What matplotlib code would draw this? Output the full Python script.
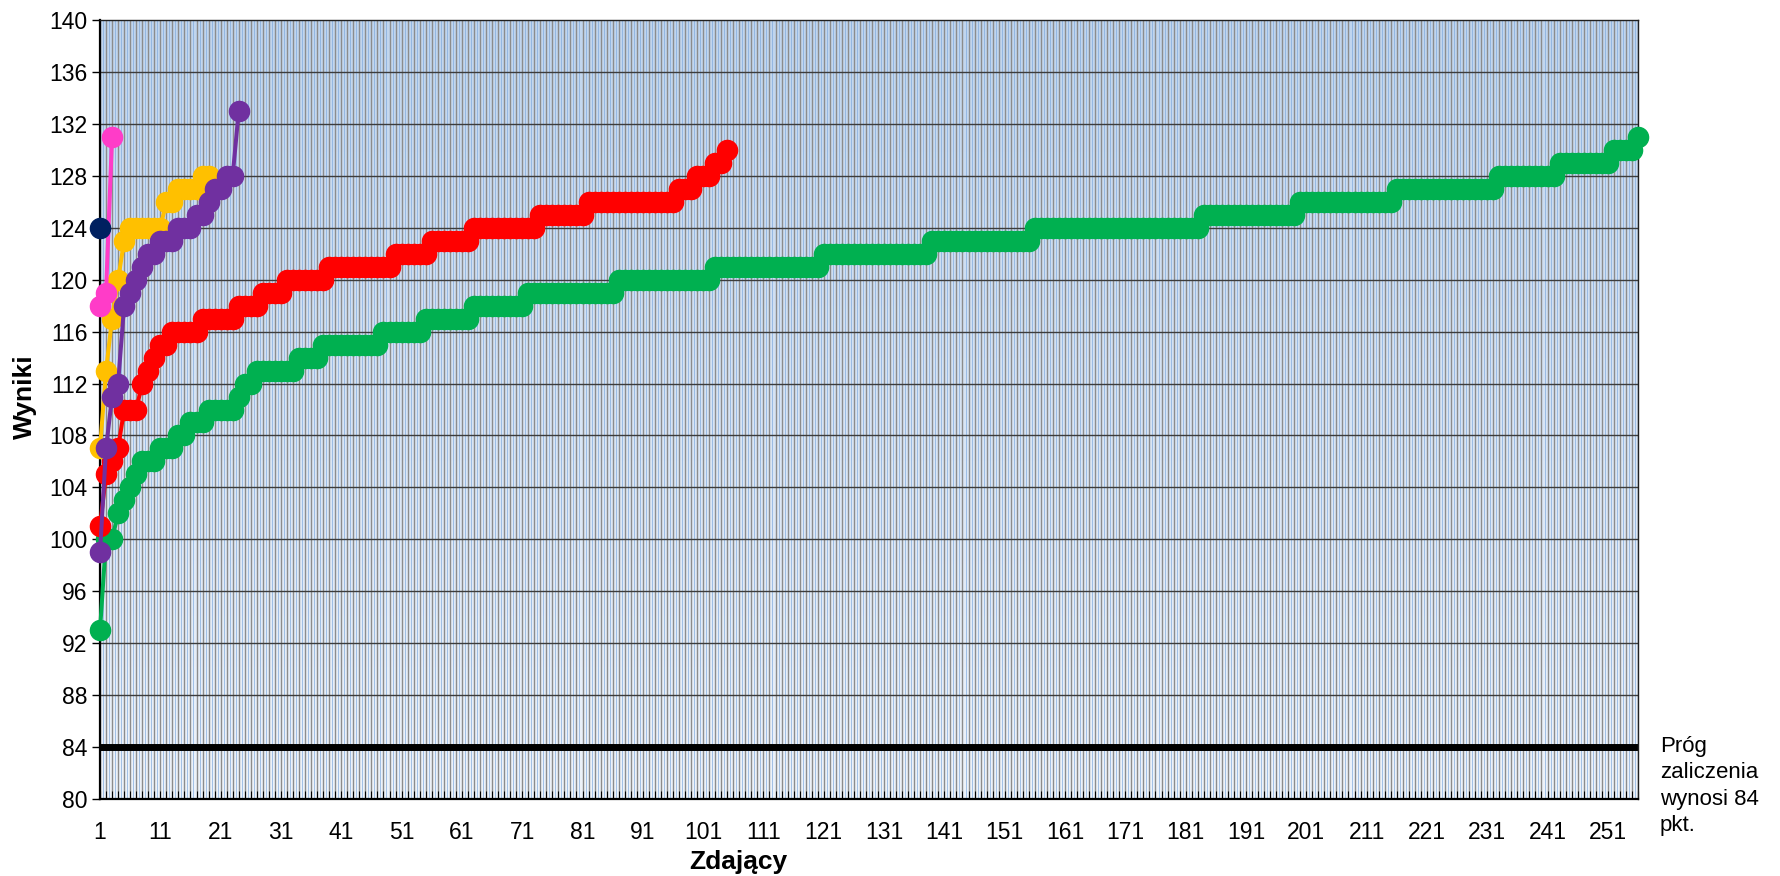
import numpy as np
import matplotlib
matplotlib.use("Agg")
import matplotlib.pyplot as plt
from matplotlib.colors import LinearSegmentedColormap

plt.rcParams['font.family'] = ['Liberation Sans', 'DejaVu Sans']

# ---------------- data ----------------
n_candidates = 256

# green series as run lengths: score level and number of candidates with it
green_levels = [93, 100, 102, 103, 104, 105, 106, 107, 108, 109, 110, 111, 112, 113,
                114, 115, 116, 117, 118, 119, 120, 121, 122, 123, 124, 125, 126, 127,
                128, 129, 130, 131]
green_counts = [1, 2, 1, 1, 1, 1, 3, 3, 2, 3, 5, 1, 2, 7,
                4, 10, 7, 8, 9, 15, 16, 18, 18, 17, 28, 16, 16, 17,
                10, 9, 4, 1]

red_levels = [101, 105, 106, 107, 110, 112, 113, 114, 115, 116, 117, 118, 119, 120,
              121, 122, 123, 124, 125, 126, 127, 128, 129, 130]
red_counts = [1, 1, 1, 1, 3, 1, 1, 1, 2, 5, 6, 4, 4, 7,
              11, 6, 7, 11, 8, 15, 3, 3, 2, 1]

orange_scores = [107, 113, 117, 120, 123, 124, 124, 124, 124, 124, 124, 126, 126,
                 127, 127, 127, 127, 128, 128]
purple_scores = [99, 107, 111, 112, 118, 119, 120, 121, 122, 122, 123, 123, 123,
                 124, 124, 124, 125, 125, 126, 127, 127, 128, 128, 133]
pink_scores = [118, 119, 131]
navy_scores = [124]

threshold = 84

y_ticks = [80, 84, 88, 92, 96, 100, 104, 108, 112, 116, 120, 124, 128, 132, 136, 140]
x_label_every = 10

green_scores = np.repeat(green_levels, green_counts)
red_scores = np.repeat(red_levels, red_counts)

series = [
    (green_scores, '#00B050'),
    (red_scores, '#FF0000'),
    (orange_scores, '#FFC000'),
    (purple_scores, '#7030A0'),
    (pink_scores, '#FF3CC8'),
    (navy_scores, '#002060'),
]

# ---------------- figure ----------------
W, H = 1780, 876
fig = plt.figure(figsize=(W / 100, H / 100), dpi=100)
L, R, T, B = 100, 1638, 20, 799
ax = fig.add_axes([L / W, 1 - B / H, (R - L) / W, (B - T) / H])

cats = np.arange(1, n_candidates + 1)
ax.set_xlim(1, n_candidates)
ax.set_ylim(y_ticks[0], y_ticks[-1])

# background gradient (light blue at top, almost white at bottom)
cmap = LinearSegmentedColormap.from_list('bg', ['#EEF3FA', '#C0D5EE'])
ax.imshow(np.linspace(0, 1, 256).reshape(-1, 1), cmap=cmap, aspect='auto',
          extent=(1, n_candidates, y_ticks[0], y_ticks[-1]), origin='lower',
          zorder=0, interpolation='bilinear')

# fine blue stripes between category gridlines
ax.vlines(cats[:-1] + 0.5, y_ticks[0], y_ticks[-1], color='#7FA9DC', lw=0.6,
          alpha=0.8, zorder=0.5)
# category gridlines
ax.vlines(cats, y_ticks[0], y_ticks[-1], color='#8C8C8C', lw=1.0, zorder=1)
# value gridlines
ax.hlines(y_ticks[1:-1], 1, n_candidates, color='#3C3C3C', lw=1.0, zorder=1.5)

# threshold line
ax.plot(cats, np.full(n_candidates, threshold), color='black', lw=5,
        solid_capstyle='butt', zorder=2)

for z, (vals, col) in enumerate(series):
    x = np.arange(1, len(vals) + 1)
    ax.plot(x, vals, color=col, lw=2.9, marker='o', ms=14.5, mfc=col, mec=col,
            solid_joinstyle='round', clip_on=False, zorder=3 + z)

# ticks
ax.set_xticks(cats)
ax.set_xticklabels([str(c) if (c - 1) % x_label_every == 0 else '' for c in cats])
ax.tick_params(axis='x', direction='in', length=6, width=0.8, color='black',
               labelsize=16.5, pad=16)
ax.set_yticks(y_ticks)
ax.set_yticklabels([str(v) for v in y_ticks])
ax.tick_params(axis='y', direction='out', length=6, width=1.0, color='black',
               labelsize=16.5, pad=3)

for s in ['left', 'bottom']:
    ax.spines[s].set_linewidth(1.6)
    ax.spines[s].set_color('black')
for s in ['top', 'right']:
    ax.spines[s].set_linewidth(1.0)
    ax.spines[s].set_color('#202020')

fig.text(25 / W, 1 - 397 / H, 'Wyniki', rotation=90, fontsize=19, fontweight='bold',
         ha='center', va='center')
fig.text(738 / W, 1 - 862 / H, 'Zdający', fontsize=19, fontweight='bold',
         ha='center', va='center')
fig.text(1660 / W, 1 - 786 / H, 'Próg\nzaliczenia\nwynosi 84\npkt.', fontsize=16,
         ha='left', va='center', linespacing=1.32)

fig.savefig('out.png', dpi=100)
